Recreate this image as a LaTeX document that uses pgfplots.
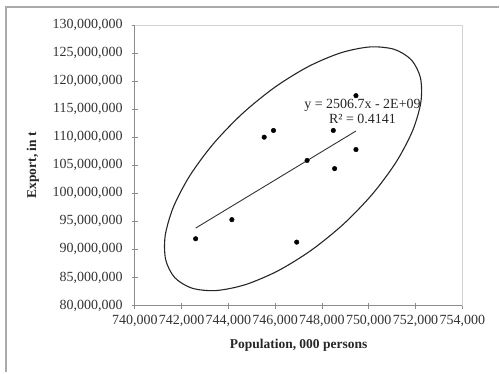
\documentclass[border=0pt]{standalone}
\usepackage{pgfplots}
\pgfplotsset{compat=1.18}
\usepackage{fontspec}
\setmainfont{Liberation Serif}
\definecolor{axgray}{RGB}{140,140,140}
\definecolor{boxgray}{RGB}{210,210,210}
\definecolor{framegray}{RGB}{170,170,170}
\begin{document}
\begin{tikzpicture}[x=1pt,y=1pt]
\begin{axis}[
  at={(0,0)}, anchor=south west,
  scale only axis, width=328pt, height=281pt,
  xmin=740000, xmax=754000, ymin=80000000, ymax=130000000,
  xtick={740000,742000,...,754000},
  ytick={80000000,85000000,...,130000000},
  scaled ticks=false,
  /pgf/number format/.cd, fixed, 1000 sep={,}, assume math mode=true,
  /pgfplots/.cd,
  axis line style={boxgray, line width=0.8pt},
  axis x line*=bottom, axis y line*=left,
  tick align=center, major tick length=6pt,
  tick style={axgray, line width=0.8pt},
  tick label style={font=\fontsize{14}{16}\selectfont, text=black!80},
  xticklabel style={inner sep=0pt, anchor=north, yshift=-6pt},
  yticklabel style={inner sep=0pt, anchor=east, xshift=-9pt},
  xlabel={\textbf{Population, 000 persons}},
  ylabel={\textbf{Export, in t}},
  label style={font=\fontsize{13.5}{16}\selectfont, text=black!85},
  xlabel style={at={(axis description cs:0.5,-0.142)}, anchor=center},
  ylabel style={at={(axis description cs:-0.311,0.5)}, anchor=center, rotate=0},
  clip=false,
]
% plot box (top and right, light)
\draw[boxgray, line width=0.8pt] (rel axis cs:0,1) -- (rel axis cs:1,1) -- (rel axis cs:1,0);
\draw[axgray, line width=0.9pt] (rel axis cs:0,1) -- (rel axis cs:0,0) -- (rel axis cs:1,0);
% confidence ellipse
\addplot[black!85, line width=1.1pt, smooth cycle] coordinates {
(751823,123772000) (751090,125653000) (750062,126085000) (748809,125038000)
(747417,122583000) (745981,118885000) (744598,114201000) (743363,108847000)
(742359,103187000) (741656,97610000) (741301,92493000) (741319,88185000)
(741707,84982000) (742440,83101000) (743468,82669000) (744721,83716000)
(746113,86171000) (747549,89869000) (748932,94553000) (750167,99907000)
(751171,105567000) (751874,111144000) (752229,116261000) (752211,120569000)
};
% trend line
\addplot[black!80, line width=0.9pt] coordinates {(742601,93800000) (749454,111100000)};
% data
\addplot[only marks, mark=*, mark size=2.3pt, black] coordinates {
(742601,91900000) (744150,95300000) (745531,110000000) (745928,111200000)
(747364,105850000) (748486,111200000) (748542,104400000) (749454,107800000)
(749454,117400000) (746921,91300000)
};
\node[align=center, font=\fontsize{14}{15}\selectfont, text=black!85, inner sep=0pt] at (axis cs:749732,114600000) {y = 2506.7x - 2E+09\\R² = 0.4141};
\end{axis}
\pgfresetboundingbox
\draw[framegray, line width=1.5pt] (-129,-67) -- (-129,299) -- (365,299);
\path[use as bounding box] (-135,-67) rectangle (365,306);
\end{tikzpicture}
\end{document}
